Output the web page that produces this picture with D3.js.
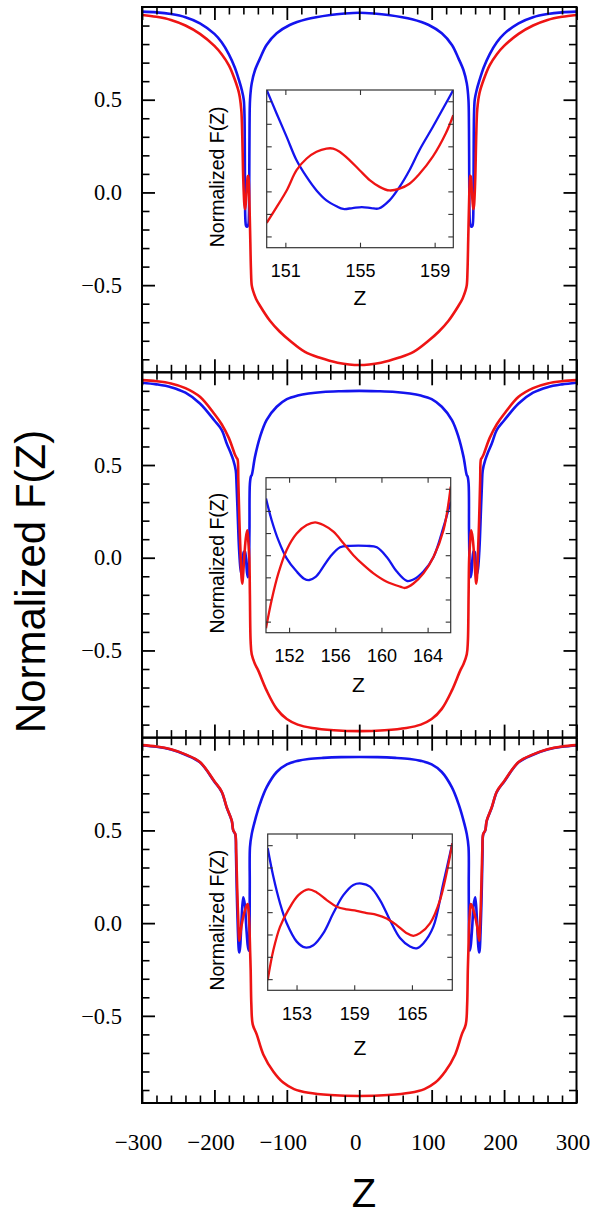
<!DOCTYPE html>
<html>
<head>
<meta charset="utf-8">
<script src="https://cdn.jsdelivr.net/npm/d3@7"></script>
<style>
  body { margin: 0; background: #fff; }
  svg { display: block; }
</style>
</head>
<body>
<svg id="chart"></svg>
<script>
// Three stacked F(Z) profiles, each with a zoom inset on the right dip.
// Values are [Z, normalized F(Z)].

const blue1 = [[-300,0.975],[-280,0.971],[-260,0.962],[-240,0.945],[-220,0.912],[-200,0.855],[-190,0.81],[-180,0.745],[-172,0.675],[-166,0.605],[-162,0.55],[-159.5,0.5],[-158.5,0.42],[-158,0.2],[-157.7,-0.05],[-157.2,-0.15],[-156.3,-0.18],[-154.8,-0.185],[-153.2,-0.175],[-152.3,-0.12],[-151.9,0.05],[-151.5,0.35],[-150.8,0.5],[-148.5,0.588],[-144,0.659],[-137,0.723],[-128,0.795],[-114,0.858],[-96,0.903],[-73,0.934],[-40,0.957],[-20,0.965],[0,0.969],
  [20,0.965],[40,0.957],[73,0.934],[96,0.903],[114,0.858],[128,0.795],[137,0.723],[144,0.659],[148.5,0.588],[150.8,0.5],[151.5,0.35],[151.9,0.05],[152.3,-0.12],[153.2,-0.175],[154.8,-0.185],[156.3,-0.18],[157.2,-0.15],[157.7,-0.05],[158,0.2],[158.5,0.42],[159.5,0.5],[162,0.55],[166,0.605],[172,0.675],[180,0.745],[190,0.81],[200,0.855],[220,0.912],[240,0.945],[260,0.962],[280,0.971],[300,0.975]];

const red1 = [[-300,0.957],[-280,0.947],[-260,0.93],[-240,0.9],[-220,0.855],[-200,0.79],[-190,0.745],[-180,0.685],[-172,0.61],[-166,0.535],[-163,0.45],[-161.5,0.3],[-160.5,0.12],[-159.5,0],[-158.5,-0.07],[-157.6,-0.09],[-156.5,-0.05],[-155,0.04],[-154,0.085],[-153.3,0.09],[-152.5,0.05],[-151.5,-0.08],[-150.5,-0.25],[-149.5,-0.42],[-148.5,-0.5],[-146.7,-0.53],[-142.6,-0.573],[-137.1,-0.611],[-123.3,-0.692],[-110,-0.75],[-95.6,-0.8],[-75,-0.86],[-54.2,-0.892],[-30,-0.918],[0,-0.931],
  [30,-0.918],[54.2,-0.892],[75,-0.86],[95.6,-0.8],[110,-0.75],[123.3,-0.692],[137.1,-0.611],[142.6,-0.573],[146.7,-0.53],[148.5,-0.5],[149.5,-0.42],[150.5,-0.25],[151.5,-0.08],[152.5,0.05],[153.3,0.09],[154,0.085],[155,0.04],[156.5,-0.05],[157.6,-0.09],[158.5,-0.07],[159.5,0],[160.5,0.12],[161.5,0.3],[163,0.45],[166,0.535],[172,0.61],[180,0.685],[190,0.745],[200,0.79],[220,0.855],[240,0.9],[260,0.93],[280,0.947],[300,0.957]];

const blue2 = [[-300,0.944],[-280,0.935],[-260,0.92],[-240,0.89],[-220,0.832],[-200,0.74],[-190,0.69],[-183,0.616],[-178,0.57],[-173.9,0.526],[-170.5,0.47],[-169.5,0.4],[-168,0.25],[-166,0.05],[-164,-0.06],[-162.5,-0.09],[-161,-0.04],[-159.5,0.03],[-158,0.035],[-156.5,0],[-155,-0.08],[-153.8,-0.105],[-152.6,-0.06],[-151.6,0.15],[-151,0.4],[-149.5,0.44],[-148.5,0.445],[-144,0.544],[-137,0.652],[-128,0.742],[-114,0.814],[-100,0.855],[-85,0.875],[-70,0.886],[-50,0.894],[-25,0.898],[0,0.9],
  [25,0.898],[50,0.894],[70,0.886],[85,0.875],[100,0.855],[114,0.814],[128,0.742],[137,0.652],[144,0.544],[148.5,0.445],[149.5,0.44],[151,0.4],[151.6,0.15],[152.6,-0.06],[153.8,-0.105],[155,-0.08],[156.5,0],[158,0.035],[159.5,0.03],[161,-0.04],[162.5,-0.09],[164,-0.06],[166,0.05],[168,0.25],[169.5,0.4],[170.5,0.47],[173.9,0.526],[178,0.57],[183,0.616],[190,0.69],[200,0.74],[220,0.832],[240,0.89],[260,0.92],[280,0.935],[300,0.944]];

const red2 = [[-300,0.958],[-280,0.952],[-260,0.94],[-240,0.915],[-220,0.868],[-200,0.775],[-190,0.72],[-180,0.645],[-172,0.56],[-169.5,0.54],[-168,0.53],[-167,0.42],[-165.5,0.2],[-163.7,0],[-162.5,-0.11],[-161.5,-0.14],[-160.5,-0.1],[-158.5,0.02],[-156.5,0.11],[-154.6,0.148],[-153.2,0.09],[-151.8,0],[-151,-0.2],[-150,-0.45],[-148.5,-0.52],[-144,-0.573],[-139.4,-0.609],[-127.8,-0.717],[-114,-0.815],[-100,-0.87],[-85,-0.9],[-65,-0.918],[-35,-0.93],[0,-0.935],
  [35,-0.93],[65,-0.918],[85,-0.9],[100,-0.87],[114,-0.815],[127.8,-0.717],[139.4,-0.609],[144,-0.573],[148.5,-0.52],[150,-0.45],[151,-0.2],[151.8,0],[153.2,0.09],[154.6,0.148],[156.5,0.11],[158.5,0.02],[160.5,-0.1],[161.5,-0.14],[162.5,-0.11],[163.7,0],[165.5,0.2],[167,0.42],[168,0.53],[169.5,0.54],[172,0.56],[180,0.645],[190,0.72],[200,0.775],[220,0.868],[240,0.915],[260,0.94],[280,0.952],[300,0.958]];

const blue3 = [[-300,0.958],[-280,0.951],[-260,0.936],[-240,0.908],[-220,0.867],[-200,0.763],[-190,0.708],[-183,0.623],[-176,0.551],[-174,0.5],[-171.2,0.479],[-170.2,0.37],[-169,0.15],[-167.5,-0.05],[-166.3,-0.145],[-165.5,-0.158],[-164.3,-0.12],[-162.5,0.02],[-160.2,0.139],[-158,0.1],[-156,-0.02],[-154,-0.12],[-152.7,-0.149],[-151.7,-0.08],[-151.2,0.2],[-150.9,0.41],[-148.5,0.48],[-144,0.553],[-137.1,0.643],[-127.8,0.733],[-114,0.815],[-100,0.856],[-85,0.875],[-70,0.885],[-50,0.891],[-25,0.895],[0,0.896],
  [25,0.895],[50,0.891],[70,0.885],[85,0.875],[100,0.856],[114,0.815],[127.8,0.733],[137.1,0.643],[144,0.553],[148.5,0.48],[150.9,0.41],[151.2,0.2],[151.7,-0.08],[152.7,-0.149],[154,-0.12],[156,-0.02],[158,0.1],[160.2,0.139],[162.5,0.02],[164.3,-0.12],[165.5,-0.158],[166.3,-0.145],[167.5,-0.05],[169,0.15],[170.2,0.37],[171.2,0.479],[174,0.5],[176,0.551],[183,0.623],[190,0.708],[200,0.763],[220,0.867],[240,0.908],[260,0.936],[280,0.951],[300,0.958]];

const red3 = [[-300,0.96],[-280,0.953],[-260,0.938],[-240,0.91],[-220,0.869],[-200,0.765],[-190,0.71],[-183,0.625],[-176,0.553],[-174,0.5],[-171.2,0.481],[-170,0.4],[-169.2,0.283],[-167.9,0.103],[-166.6,-0.03],[-165.8,-0.095],[-164.5,-0.07],[-162.9,-0.02],[-159.2,0.05],[-155.6,0.094],[-154.1,0.103],[-152.8,0.06],[-151.8,-0.005],[-150.7,-0.15],[-149.9,-0.257],[-149,-0.438],[-147.1,-0.546],[-141.6,-0.6],[-132.5,-0.708],[-118.7,-0.8],[-105,-0.86],[-90,-0.895],[-70,-0.915],[-40,-0.927],[0,-0.932],
  [40,-0.927],[70,-0.915],[90,-0.895],[105,-0.86],[118.7,-0.8],[132.5,-0.708],[141.6,-0.6],[147.1,-0.546],[149,-0.438],[149.9,-0.257],[150.7,-0.15],[151.8,-0.005],[152.8,0.06],[154.1,0.103],[155.6,0.094],[159.2,0.05],[162.9,-0.02],[164.5,-0.07],[165.8,-0.095],[166.6,-0.03],[167.9,0.103],[169.2,0.283],[170,0.4],[171.2,0.481],[174,0.5],[176,0.553],[183,0.625],[190,0.71],[200,0.765],[220,0.869],[240,0.91],[260,0.938],[280,0.953],[300,0.96]];

// insets (Z around the right-hand dip)
const insetBlue1 = [[150,0.125],[150.53,0.073],[151.07,0.021],[151.6,-0.031],[152.14,-0.068],[152.67,-0.098],[153.2,-0.12],[153.74,-0.133],[154.1,-0.139],[154.6,-0.137],[155.1,-0.135],[155.6,-0.137],[156,-0.138],[156.58,-0.12],[157.12,-0.09],[157.65,-0.053],[158.19,-0.008],[158.9,0.043],[159.6,0.095],[160,0.125]];
const insetRed1 = [[150,-0.17],[150.53,-0.135],[151.07,-0.098],[151.6,-0.053],[152.14,-0.027],[152.67,-0.012],[153.2,-0.005],[153.56,-0.005],[153.91,-0.012],[154.45,-0.031],[154.98,-0.053],[155.52,-0.075],[156.05,-0.09],[156.58,-0.098],[157.12,-0.094],[157.65,-0.083],[158.19,-0.061],[158.9,-0.023],[159.6,0.029],[160,0.069]];
const insetBlue2 = [[150,0.078],[150.49,0.029],[151.07,-0.016],[151.79,-0.057],[152.66,-0.087],[153.3,-0.103],[153.75,-0.106],[154.3,-0.099],[154.68,-0.087],[155.55,-0.054],[156.42,-0.032],[157.28,-0.029],[158.73,-0.029],[159.6,-0.032],[160.46,-0.054],[161.33,-0.087],[162.2,-0.108],[162.77,-0.105],[163.64,-0.087],[164.51,-0.054],[165.38,0.014],[166,0.071]];
const insetRed2 = [[150,-0.215],[150.49,-0.151],[151.07,-0.091],[151.79,-0.038],[152.66,-0.001],[153.53,0.018],[154.25,0.024],[154.97,0.018],[155.84,0.003],[156.71,-0.023],[157.57,-0.05],[158.44,-0.072],[159.31,-0.091],[160.46,-0.11],[161.62,-0.121],[162.05,-0.124],[162.77,-0.114],[163.64,-0.091],[164.51,-0.054],[165.38,0.007],[166,0.105]];
const insetBlue3 = [[150,0.093],[150.59,0.029],[151.28,-0.03],[151.98,-0.075],[153.02,-0.116],[153.88,-0.129],[154.75,-0.124],[155.79,-0.097],[156.83,-0.052],[157.87,-0.012],[158.91,0.011],[159.77,0.014],[160.64,0.007],[161.68,-0.023],[162.72,-0.068],[163.76,-0.108],[164.8,-0.127],[165.49,-0.131],[166.18,-0.12],[167.22,-0.083],[168.26,0.014],[169.2,0.104]];
const insetRed3 = [[150,-0.202],[150.59,-0.135],[151.28,-0.083],[152.15,-0.045],[153.19,-0.012],[154.23,0.001],[155.1,-0.006],[156.14,-0.023],[157.18,-0.038],[158.21,-0.044],[159.25,-0.047],[160.29,-0.052],[161.33,-0.056],[162.37,-0.064],[163.41,-0.079],[164.45,-0.097],[165.15,-0.103],[165.84,-0.097],[166.88,-0.075],[167.92,-0.023],[169.2,0.104]];

const zDomain = [-300, 300];
const fDomain = [-0.97, 1.0];
const zTickLabels = [-300, -200, -100, 0, 100, 200, 300];
const zMinorTicks = [-280,-260,-240,-220,-180,-160,-140,-120,-80,-60,-40,-20,20,40,60,80,120,140,160,180,220,240,260,280];
const fTickLabels = [-0.5, 0, 0.5];
const fMinorTicks = [-0.9,-0.8,-0.7,-0.6,-0.4,-0.3,-0.2,-0.1,0.1,0.2,0.3,0.4,0.6,0.7,0.8,0.9];
const insetZDomains = [[150, 160], [150, 166], [150, 169.2]];
const insetZTicks = [[151, 155, 159], [152, 156, 160, 164], [153, 159, 165]];
const insetFDomain = [-0.225, 0.125];
const insetFTicks = [-0.2, -0.15, -0.1, -0.05, 0, 0.05, 0.1];

const blueSeries = [blue1, blue2, blue3];
const redSeries = [red1, red2, red3];
const insetBlue = [insetBlue1, insetBlue2, insetBlue3];
const insetRed = [insetRed1, insetRed2, insetRed3];

// ---- layout ----
const W = 591, H = 1217;
const plotLeft = 142, plotRight = 576.5;
const panelTops = [7, 372.3, 737.7], panelH = 365.3;
const insetBoxes = [
  {x: 266.7, y: 90, w: 186.6, h: 157.7, zLab: 57},
  {x: 266, y: 477.7, w: 184.7, h: 155, zLab: 59},
  {x: 267.7, y: 834, w: 184.6, h: 156.3, zLab: 65}
];
const BLUE = "#1414ee", RED = "#ee1414";
const SANS = "'Liberation Sans', Arial, Helvetica, sans-serif";
const SERIF = "'Liberation Serif', 'Times New Roman', Times, serif";

const svg = d3.select("#chart").attr("width", W).attr("height", H);
svg.append("rect").attr("width", W).attr("height", H).attr("fill", "#fff");
const defs = svg.append("defs");

const x = d3.scaleLinear().domain(zDomain).range([plotLeft, plotRight]);

function styleTicks(g, width) {
  g.select(".domain").remove();
  g.selectAll(".tick line").attr("stroke", "#000").attr("stroke-width", width);
}

panelTops.forEach((top, i) => {
  const y = d3.scaleLinear().domain(fDomain).range([top + panelH, top]);
  const g = svg.append("g");

  defs.append("clipPath").attr("id", "clip" + i).append("rect")
    .attr("x", plotLeft).attr("y", top).attr("width", plotRight - plotLeft).attr("height", panelH);

  const line = d3.line().x(d => x(d[0])).y(d => y(d[1])).curve(d3.curveCatmullRom.alpha(0.5));
  const curves = g.append("g").attr("clip-path", `url(#clip${i})`);
  curves.append("path").datum(blueSeries[i]).attr("d", line)
    .attr("fill", "none").attr("stroke", BLUE).attr("stroke-width", 2.6).attr("stroke-linejoin", "round");
  curves.append("path").datum(redSeries[i]).attr("d", line)
    .attr("fill", "none").attr("stroke", RED).attr("stroke-width", 2.6).attr("stroke-linejoin", "round");

  // inward ticks on all four sides
  g.append("g").attr("transform", `translate(0,${top})`)
    .call(d3.axisTop(x).tickValues(zTickLabels).tickSize(-13).tickFormat(""))
    .call(a => styleTicks(a, 1.8));
  g.append("g").attr("transform", `translate(0,${top})`)
    .call(d3.axisTop(x).tickValues(zMinorTicks).tickSize(-7.5).tickFormat(""))
    .call(a => styleTicks(a, 1.6));
  g.append("g").attr("transform", `translate(0,${top + panelH})`)
    .call(d3.axisBottom(x).tickValues(zTickLabels).tickSize(-13).tickFormat(""))
    .call(a => styleTicks(a, 1.8));
  g.append("g").attr("transform", `translate(0,${top + panelH})`)
    .call(d3.axisBottom(x).tickValues(zMinorTicks).tickSize(-7.5).tickFormat(""))
    .call(a => styleTicks(a, 1.6));

  const yl = g.append("g").attr("transform", `translate(${plotLeft},0)`)
    .call(d3.axisLeft(y).tickValues(fTickLabels).tickSize(-13).tickPadding(20).tickFormat(d3.format(".1f")))
    .call(a => styleTicks(a, 1.8));
  yl.selectAll("text").attr("font-family", SERIF).attr("font-size", 22.5).attr("fill", "#000");
  g.append("g").attr("transform", `translate(${plotLeft},0)`)
    .call(d3.axisLeft(y).tickValues(fMinorTicks).tickSize(-7.5).tickFormat(""))
    .call(a => styleTicks(a, 1.6));
  g.append("g").attr("transform", `translate(${plotRight},0)`)
    .call(d3.axisRight(y).tickValues(fTickLabels).tickSize(-13).tickFormat(""))
    .call(a => styleTicks(a, 1.8));
  g.append("g").attr("transform", `translate(${plotRight},0)`)
    .call(d3.axisRight(y).tickValues(fMinorTicks).tickSize(-7.5).tickFormat(""))
    .call(a => styleTicks(a, 1.6));

  g.append("rect").attr("x", plotLeft).attr("y", top)
    .attr("width", plotRight - plotLeft).attr("height", panelH)
    .attr("fill", "none").attr("stroke", "#000").attr("stroke-width", 2);

  if (i === panelTops.length - 1) {
    const xl = g.append("g").attr("transform", `translate(0,${top + panelH})`)
      .call(d3.axisBottom(x).tickValues(zTickLabels).tickSize(0).tickPadding(31).tickFormat(d3.format("d")));
    xl.select(".domain").remove();
    xl.selectAll("text").attr("font-family", SERIF).attr("font-size", 23).attr("fill", "#000").attr("dx", -4);
  }

  // ---- inset ----
  const b = insetBoxes[i];
  const ix = d3.scaleLinear().domain(insetZDomains[i]).range([b.x, b.x + b.w]);
  const iy = d3.scaleLinear().domain(insetFDomain).range([b.y + b.h, b.y]);
  const ig = g.append("g");
  ig.append("rect").attr("x", b.x).attr("y", b.y).attr("width", b.w).attr("height", b.h).attr("fill", "#fff");
  defs.append("clipPath").attr("id", "iclip" + i).append("rect")
    .attr("x", b.x).attr("y", b.y).attr("width", b.w).attr("height", b.h);
  const iline = d3.line().x(d => ix(d[0])).y(d => iy(d[1])).curve(d3.curveCatmullRom.alpha(0.5));
  const ic = ig.append("g").attr("clip-path", `url(#iclip${i})`);
  ic.append("path").datum(insetBlue[i]).attr("d", iline)
    .attr("fill", "none").attr("stroke", BLUE).attr("stroke-width", 2.3);
  ic.append("path").datum(insetRed[i]).attr("d", iline)
    .attr("fill", "none").attr("stroke", RED).attr("stroke-width", 2.3);

  const thin = a => { a.select(".domain").remove(); a.selectAll(".tick line").attr("stroke", "#333").attr("stroke-width", 1.1); };
  ig.append("g").attr("transform", `translate(0,${b.y})`)
    .call(d3.axisTop(ix).tickValues(insetZTicks[i]).tickSize(-5).tickFormat("")).call(thin);
  const ixl = ig.append("g").attr("transform", `translate(0,${b.y + b.h})`)
    .call(d3.axisBottom(ix).tickValues(insetZTicks[i]).tickSize(-5).tickPadding(17)).call(thin);
  ixl.selectAll("text").attr("font-family", SANS).attr("font-size", 18).attr("fill", "#000");
  ig.append("g").attr("transform", `translate(${b.x},0)`)
    .call(d3.axisLeft(iy).tickValues(insetFTicks).tickSize(-5).tickFormat("")).call(thin);
  ig.append("g").attr("transform", `translate(${b.x + b.w},0)`)
    .call(d3.axisRight(iy).tickValues(insetFTicks).tickSize(-5).tickFormat("")).call(thin);
  ig.append("rect").attr("x", b.x).attr("y", b.y).attr("width", b.w).attr("height", b.h)
    .attr("fill", "none").attr("stroke", "#333").attr("stroke-width", 1.2);

  ig.append("text").attr("x", b.x + b.w / 2).attr("y", b.y + b.h + b.zLab)
    .attr("text-anchor", "middle").attr("font-family", SANS).attr("font-size", 21).text("Z");
  ig.append("text")
    .attr("transform", `translate(223.5,${b.y + b.h / 2 + 8}) rotate(-90)`)
    .attr("text-anchor", "middle").attr("font-family", SANS).attr("font-size", 19.5)
    .text("Normalized F(Z)");
});

svg.append("text")
  .attr("transform", "translate(45,581.5) rotate(-90)")
  .attr("text-anchor", "middle").attr("font-family", SANS).attr("font-size", 42)
  .text("Normalized F(Z)");
svg.append("text").attr("x", 364).attr("y", 1207)
  .attr("text-anchor", "middle").attr("font-family", SANS).attr("font-size", 40)
  .text("Z");
</script>
</body>
</html>
